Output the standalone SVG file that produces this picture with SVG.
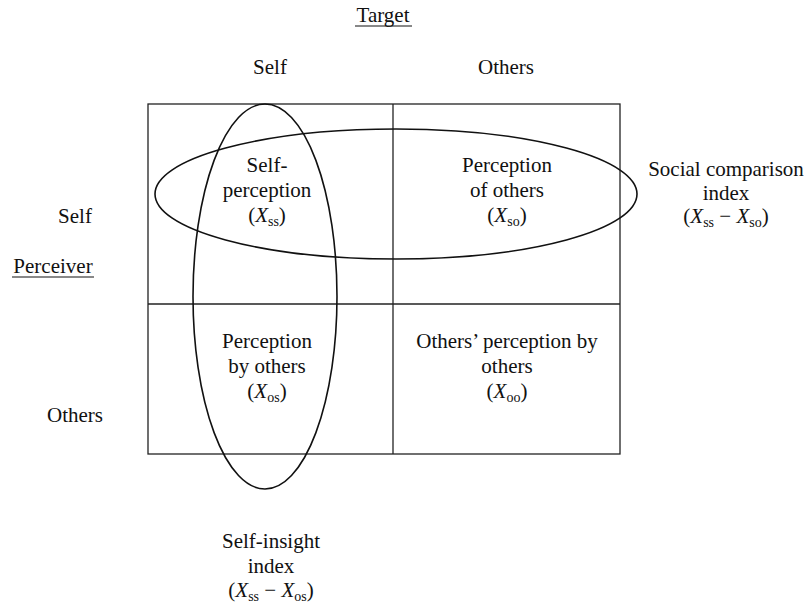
<svg xmlns="http://www.w3.org/2000/svg" width="808" height="607" viewBox="0 0 808 607">
<style>
text{font-family:"Liberation Serif","Times New Roman",serif;font-size:21px;fill:#111;text-anchor:middle}
.i{font-style:italic}
.s{font-size:14px}
.grid{fill:none;stroke:#222;stroke-width:1.3}
.ell{fill:none;stroke:#111;stroke-width:1.6}
.ul{stroke:#111;stroke-width:1}
</style>
<rect width="808" height="607" fill="#fff"/>
<g id="headers">
<text x="383" y="22">Target</text>
<line class="ul" x1="355" y1="26" x2="412" y2="26"/>
<text x="270" y="74">Self</text>
<text x="506" y="74">Others</text>
<text x="75" y="223">Self</text>
<text x="53" y="273">Perceiver</text>
<line class="ul" x1="12" y1="277" x2="94" y2="277"/>
<text x="75" y="422">Others</text>
</g>
<g id="grid">
<rect class="grid" x="148" y="104" width="472" height="350"/>
<line class="grid" x1="393" y1="104" x2="393" y2="454"/>
<line class="grid" x1="148" y1="304" x2="620" y2="304"/>
</g>
<g id="cell-ss">
<text x="267" y="172">Self-</text>
<text x="267" y="197">perception</text>
<text x="267" y="222">(<tspan class="i">X</tspan><tspan class="s" dy="4">ss</tspan><tspan dy="-4">)</tspan></text>
</g>
<g id="cell-so">
<text x="507" y="172">Perception</text>
<text x="507" y="197">of others</text>
<text x="507" y="222">(<tspan class="i">X</tspan><tspan class="s" dy="4">so</tspan><tspan dy="-4">)</tspan></text>
</g>
<g id="cell-os">
<text x="267" y="348">Perception</text>
<text x="267" y="373">by others</text>
<text x="267" y="398">(<tspan class="i">X</tspan><tspan class="s" dy="4">os</tspan><tspan dy="-4">)</tspan></text>
</g>
<g id="cell-oo">
<text x="507" y="348">Others’ perception by</text>
<text x="507" y="373">others</text>
<text x="507" y="398">(<tspan class="i">X</tspan><tspan class="s" dy="4">oo</tspan><tspan dy="-4">)</tspan></text>
</g>
<g id="social-comparison">
<ellipse class="ell" cx="396" cy="194" rx="241" ry="65"/>
<text x="726" y="176">Social comparison</text>
<text x="726" y="200">index</text>
<text x="726" y="223">(<tspan class="i">X</tspan><tspan class="s" dy="4">ss</tspan><tspan dy="-4"> − </tspan><tspan class="i">X</tspan><tspan class="s" dy="4">so</tspan><tspan dy="-4">)</tspan></text>
</g>
<g id="self-insight">
<ellipse class="ell" cx="265" cy="296.5" rx="72" ry="192.5"/>
<text x="271" y="548">Self-insight</text>
<text x="271" y="573">index</text>
<text x="271" y="597">(<tspan class="i">X</tspan><tspan class="s" dy="4">ss</tspan><tspan dy="-4"> − </tspan><tspan class="i">X</tspan><tspan class="s" dy="4">os</tspan><tspan dy="-4">)</tspan></text>
</g>
</svg>
